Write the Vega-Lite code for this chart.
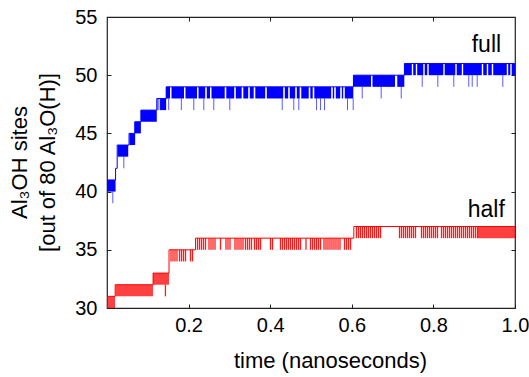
{
  "$schema": "https://vega.github.io/schema/vega-lite/v6.json",
  "autosize": {"type": "none"},
  "width": 408,
  "height": 291,
  "padding": {"left": 107, "top": 17, "right": 14, "bottom": 69},
  "background": "white",
  "config": {
    "view": {"stroke": "#222222", "strokeWidth": 1.2},
    "font": "Liberation Sans, Arial, DejaVu Sans, sans-serif",
    "axis": {
      "labelFont": "Liberation Sans, Arial, DejaVu Sans, sans-serif",
      "titleFont": "Liberation Sans, Arial, DejaVu Sans, sans-serif",
      "labelColor": "#000000",
      "titleColor": "#000000",
      "tickColor": "#222222",
      "grid": false,
      "domain": false,
      "titleFontWeight": "normal"
    }
  },
  "datasets": {
    "bands": [
      {"series": "full", "lo": 40, "hi": 41, "t0": 0, "t1": 0.021},
      {"series": "full", "lo": 43, "hi": 44, "t0": 0.026, "t1": 0.052},
      {"series": "full", "lo": 44, "hi": 45, "t0": 0.055, "t1": 0.069},
      {"series": "full", "lo": 45, "hi": 46, "t0": 0.068, "t1": 0.083},
      {"series": "full", "lo": 46, "hi": 47, "t0": 0.083, "t1": 0.122},
      {"series": "full", "lo": 47, "hi": 48, "t0": 0.13, "t1": 0.145},
      {"series": "full", "lo": 48, "hi": 49, "t0": 0.1446, "t1": 0.1544},
      {"series": "full", "lo": 48, "hi": 49, "t0": 0.1581, "t1": 0.1887},
      {"series": "full", "lo": 48, "hi": 49, "t0": 0.1924, "t1": 0.2206},
      {"series": "full", "lo": 48, "hi": 49, "t0": 0.2243, "t1": 0.2407},
      {"series": "full", "lo": 48, "hi": 49, "t0": 0.2446, "t1": 0.2525},
      {"series": "full", "lo": 48, "hi": 49, "t0": 0.2561, "t1": 0.2885},
      {"series": "full", "lo": 48, "hi": 49, "t0": 0.2924, "t1": 0.3118},
      {"series": "full", "lo": 48, "hi": 49, "t0": 0.3157, "t1": 0.3301},
      {"series": "full", "lo": 48, "hi": 49, "t0": 0.3341, "t1": 0.3461},
      {"series": "full", "lo": 48, "hi": 49, "t0": 0.35, "t1": 0.3596},
      {"series": "full", "lo": 48, "hi": 49, "t0": 0.3635, "t1": 0.3877},
      {"series": "full", "lo": 48, "hi": 49, "t0": 0.3917, "t1": 0.4319},
      {"series": "full", "lo": 48, "hi": 49, "t0": 0.4358, "t1": 0.4441},
      {"series": "full", "lo": 48, "hi": 49, "t0": 0.448, "t1": 0.4613},
      {"series": "full", "lo": 48, "hi": 49, "t0": 0.4652, "t1": 0.4723},
      {"series": "full", "lo": 48, "hi": 49, "t0": 0.4762, "t1": 0.4944},
      {"series": "full", "lo": 48, "hi": 49, "t0": 0.4983, "t1": 0.5042},
      {"series": "full", "lo": 48, "hi": 49, "t0": 0.5081, "t1": 0.5495},
      {"series": "full", "lo": 48, "hi": 49, "t0": 0.5534, "t1": 0.5569},
      {"series": "full", "lo": 48, "hi": 49, "t0": 0.5608, "t1": 0.5716},
      {"series": "full", "lo": 48, "hi": 49, "t0": 0.5755, "t1": 0.5789},
      {"series": "full", "lo": 48, "hi": 49, "t0": 0.5828, "t1": 0.6037},
      {"series": "full", "lo": 49, "hi": 50, "t0": 0.6037, "t1": 0.6471},
      {"series": "full", "lo": 49, "hi": 50, "t0": 0.6507, "t1": 0.7059},
      {"series": "full", "lo": 49, "hi": 50, "t0": 0.7115, "t1": 0.7287},
      {"series": "full", "lo": 50, "hi": 51, "t0": 0.7287, "t1": 0.7471},
      {"series": "full", "lo": 50, "hi": 51, "t0": 0.7505, "t1": 0.7569},
      {"series": "full", "lo": 50, "hi": 51, "t0": 0.7603, "t1": 0.7752},
      {"series": "full", "lo": 50, "hi": 51, "t0": 0.7787, "t1": 0.785},
      {"series": "full", "lo": 50, "hi": 51, "t0": 0.7885, "t1": 0.8243},
      {"series": "full", "lo": 50, "hi": 51, "t0": 0.8277, "t1": 0.8537},
      {"series": "full", "lo": 50, "hi": 51, "t0": 0.8571, "t1": 0.8696},
      {"series": "full", "lo": 50, "hi": 51, "t0": 0.873, "t1": 0.9186},
      {"series": "full", "lo": 50, "hi": 51, "t0": 0.9221, "t1": 0.9309},
      {"series": "full", "lo": 50, "hi": 51, "t0": 0.9343, "t1": 0.9431},
      {"series": "full", "lo": 50, "hi": 51, "t0": 0.9466, "t1": 0.9799},
      {"series": "full", "lo": 50, "hi": 51, "t0": 0.9833, "t1": 0.9885},
      {"series": "full", "lo": 50, "hi": 51, "t0": 0.9919, "t1": 1.0},
      {"series": "half", "lo": 30, "hi": 31, "t0": 0, "t1": 0.0196},
      {"series": "half", "lo": 31, "hi": 32, "t0": 0.0208, "t1": 0.1127},
      {"series": "half", "lo": 32, "hi": 33, "t0": 0.1127, "t1": 0.152},
      {"series": "half", "lo": 36, "hi": 37, "t0": 0.9093, "t1": 1.0}
    ],
    "spikes": [
      {"series": "full", "t": 0.013, "lo": 39, "hi": 40},
      {"series": "full", "t": 0.04, "lo": 42, "hi": 43},
      {"series": "full", "t": 0.123, "lo": 47, "hi": 48},
      {"series": "full", "t": 0.126, "lo": 47, "hi": 48},
      {"series": "full", "t": 0.15, "lo": 47, "hi": 48},
      {"series": "full", "t": 0.181, "lo": 47, "hi": 48},
      {"series": "full", "t": 0.2115, "lo": 47, "hi": 48},
      {"series": "full", "t": 0.236, "lo": 47, "hi": 48},
      {"series": "full", "t": 0.2605, "lo": 47, "hi": 48},
      {"series": "full", "t": 0.2998, "lo": 47, "hi": 48},
      {"series": "full", "t": 0.4282, "lo": 47, "hi": 48},
      {"series": "full", "t": 0.4566, "lo": 47, "hi": 48},
      {"series": "full", "t": 0.4689, "lo": 47, "hi": 48},
      {"series": "full", "t": 0.5123, "lo": 47, "hi": 48},
      {"series": "full", "t": 0.522, "lo": 47, "hi": 48},
      {"series": "full", "t": 0.5319, "lo": 47, "hi": 48},
      {"series": "full", "t": 0.5882, "lo": 47, "hi": 48},
      {"series": "full", "t": 0.6022, "lo": 47, "hi": 48},
      {"series": "full", "t": 0.6243, "lo": 48, "hi": 49},
      {"series": "full", "t": 0.6708, "lo": 48, "hi": 49},
      {"series": "full", "t": 0.7199, "lo": 48, "hi": 49},
      {"series": "full", "t": 0.7713, "lo": 49, "hi": 50},
      {"series": "full", "t": 0.8096, "lo": 49, "hi": 50},
      {"series": "full", "t": 0.8488, "lo": 49, "hi": 50},
      {"series": "full", "t": 0.8855, "lo": 49, "hi": 50},
      {"series": "full", "t": 0.8939, "lo": 49, "hi": 50},
      {"series": "full", "t": 0.9061, "lo": 49, "hi": 50},
      {"series": "full", "t": 0.9689, "lo": 49, "hi": 50},
      {"series": "half", "t": 0.142, "lo": 31, "hi": 32},
      {"series": "half", "t": 0.1556, "lo": 34, "hi": 35},
      {"series": "half", "t": 0.1605, "lo": 34, "hi": 35},
      {"series": "half", "t": 0.1654, "lo": 34, "hi": 35},
      {"series": "half", "t": 0.1703, "lo": 34, "hi": 35},
      {"series": "half", "t": 0.1765, "lo": 34, "hi": 35},
      {"series": "half", "t": 0.1814, "lo": 34, "hi": 35},
      {"series": "half", "t": 0.1863, "lo": 34, "hi": 35},
      {"series": "half", "t": 0.1912, "lo": 34, "hi": 35},
      {"series": "half", "t": 0.2034, "lo": 34, "hi": 35},
      {"series": "half", "t": 0.2083, "lo": 34, "hi": 35},
      {"series": "half", "t": 0.2206, "lo": 35, "hi": 36},
      {"series": "half", "t": 0.2255, "lo": 35, "hi": 36},
      {"series": "half", "t": 0.2304, "lo": 35, "hi": 36},
      {"series": "half", "t": 0.2353, "lo": 35, "hi": 36},
      {"series": "half", "t": 0.2402, "lo": 35, "hi": 36},
      {"series": "half", "t": 0.2488, "lo": 35, "hi": 36},
      {"series": "half", "t": 0.2537, "lo": 35, "hi": 36},
      {"series": "half", "t": 0.2586, "lo": 35, "hi": 36},
      {"series": "half", "t": 0.2635, "lo": 35, "hi": 36},
      {"series": "half", "t": 0.277, "lo": 35, "hi": 36},
      {"series": "half", "t": 0.2904, "lo": 35, "hi": 36},
      {"series": "half", "t": 0.2953, "lo": 35, "hi": 36},
      {"series": "half", "t": 0.3002, "lo": 35, "hi": 36},
      {"series": "half", "t": 0.3125, "lo": 35, "hi": 36},
      {"series": "half", "t": 0.3174, "lo": 35, "hi": 36},
      {"series": "half", "t": 0.3223, "lo": 35, "hi": 36},
      {"series": "half", "t": 0.3272, "lo": 35, "hi": 36},
      {"series": "half", "t": 0.3321, "lo": 35, "hi": 36},
      {"series": "half", "t": 0.3382, "lo": 35, "hi": 36},
      {"series": "half", "t": 0.3431, "lo": 35, "hi": 36},
      {"series": "half", "t": 0.348, "lo": 35, "hi": 36},
      {"series": "half", "t": 0.3529, "lo": 35, "hi": 36},
      {"series": "half", "t": 0.3603, "lo": 35, "hi": 36},
      {"series": "half", "t": 0.3652, "lo": 35, "hi": 36},
      {"series": "half", "t": 0.3701, "lo": 35, "hi": 36},
      {"series": "half", "t": 0.375, "lo": 35, "hi": 36},
      {"series": "half", "t": 0.3995, "lo": 35, "hi": 36},
      {"series": "half", "t": 0.4044, "lo": 35, "hi": 36},
      {"series": "half", "t": 0.424, "lo": 35, "hi": 36},
      {"series": "half", "t": 0.4289, "lo": 35, "hi": 36},
      {"series": "half", "t": 0.4338, "lo": 35, "hi": 36},
      {"series": "half", "t": 0.4387, "lo": 35, "hi": 36},
      {"series": "half", "t": 0.4436, "lo": 35, "hi": 36},
      {"series": "half", "t": 0.4485, "lo": 35, "hi": 36},
      {"series": "half", "t": 0.4534, "lo": 35, "hi": 36},
      {"series": "half", "t": 0.4583, "lo": 35, "hi": 36},
      {"series": "half", "t": 0.4632, "lo": 35, "hi": 36},
      {"series": "half", "t": 0.4681, "lo": 35, "hi": 36},
      {"series": "half", "t": 0.473, "lo": 35, "hi": 36},
      {"series": "half", "t": 0.4865, "lo": 35, "hi": 36},
      {"series": "half", "t": 0.4975, "lo": 35, "hi": 36},
      {"series": "half", "t": 0.5025, "lo": 35, "hi": 36},
      {"series": "half", "t": 0.5074, "lo": 35, "hi": 36},
      {"series": "half", "t": 0.5123, "lo": 35, "hi": 36},
      {"series": "half", "t": 0.5172, "lo": 35, "hi": 36},
      {"series": "half", "t": 0.5221, "lo": 35, "hi": 36},
      {"series": "half", "t": 0.5306, "lo": 35, "hi": 36},
      {"series": "half", "t": 0.5355, "lo": 35, "hi": 36},
      {"series": "half", "t": 0.5404, "lo": 35, "hi": 36},
      {"series": "half", "t": 0.5453, "lo": 35, "hi": 36},
      {"series": "half", "t": 0.5502, "lo": 35, "hi": 36},
      {"series": "half", "t": 0.5551, "lo": 35, "hi": 36},
      {"series": "half", "t": 0.56, "lo": 35, "hi": 36},
      {"series": "half", "t": 0.565, "lo": 35, "hi": 36},
      {"series": "half", "t": 0.5699, "lo": 35, "hi": 36},
      {"series": "half", "t": 0.5809, "lo": 35, "hi": 36},
      {"series": "half", "t": 0.5858, "lo": 35, "hi": 36},
      {"series": "half", "t": 0.5907, "lo": 35, "hi": 36},
      {"series": "half", "t": 0.5956, "lo": 35, "hi": 36},
      {"series": "half", "t": 0.6103, "lo": 36, "hi": 37},
      {"series": "half", "t": 0.6152, "lo": 36, "hi": 37},
      {"series": "half", "t": 0.6201, "lo": 36, "hi": 37},
      {"series": "half", "t": 0.625, "lo": 36, "hi": 37},
      {"series": "half", "t": 0.6299, "lo": 36, "hi": 37},
      {"series": "half", "t": 0.6348, "lo": 36, "hi": 37},
      {"series": "half", "t": 0.6397, "lo": 36, "hi": 37},
      {"series": "half", "t": 0.6446, "lo": 36, "hi": 37},
      {"series": "half", "t": 0.6495, "lo": 36, "hi": 37},
      {"series": "half", "t": 0.6544, "lo": 36, "hi": 37},
      {"series": "half", "t": 0.6593, "lo": 36, "hi": 37},
      {"series": "half", "t": 0.6642, "lo": 36, "hi": 37},
      {"series": "half", "t": 0.6691, "lo": 36, "hi": 37},
      {"series": "half", "t": 0.7157, "lo": 36, "hi": 37},
      {"series": "half", "t": 0.7206, "lo": 36, "hi": 37},
      {"series": "half", "t": 0.7255, "lo": 36, "hi": 37},
      {"series": "half", "t": 0.7304, "lo": 36, "hi": 37},
      {"series": "half", "t": 0.7353, "lo": 36, "hi": 37},
      {"series": "half", "t": 0.7402, "lo": 36, "hi": 37},
      {"series": "half", "t": 0.7451, "lo": 36, "hi": 37},
      {"series": "half", "t": 0.75, "lo": 36, "hi": 37},
      {"series": "half", "t": 0.7549, "lo": 36, "hi": 37},
      {"series": "half", "t": 0.7696, "lo": 36, "hi": 37},
      {"series": "half", "t": 0.7745, "lo": 36, "hi": 37},
      {"series": "half", "t": 0.7794, "lo": 36, "hi": 37},
      {"series": "half", "t": 0.7843, "lo": 36, "hi": 37},
      {"series": "half", "t": 0.7892, "lo": 36, "hi": 37},
      {"series": "half", "t": 0.7941, "lo": 36, "hi": 37},
      {"series": "half", "t": 0.799, "lo": 36, "hi": 37},
      {"series": "half", "t": 0.8039, "lo": 36, "hi": 37},
      {"series": "half", "t": 0.8088, "lo": 36, "hi": 37},
      {"series": "half", "t": 0.8186, "lo": 36, "hi": 37},
      {"series": "half", "t": 0.8235, "lo": 36, "hi": 37},
      {"series": "half", "t": 0.8284, "lo": 36, "hi": 37},
      {"series": "half", "t": 0.8333, "lo": 36, "hi": 37},
      {"series": "half", "t": 0.8382, "lo": 36, "hi": 37},
      {"series": "half", "t": 0.8431, "lo": 36, "hi": 37},
      {"series": "half", "t": 0.848, "lo": 36, "hi": 37},
      {"series": "half", "t": 0.8529, "lo": 36, "hi": 37},
      {"series": "half", "t": 0.8578, "lo": 36, "hi": 37},
      {"series": "half", "t": 0.8627, "lo": 36, "hi": 37},
      {"series": "half", "t": 0.8676, "lo": 36, "hi": 37},
      {"series": "half", "t": 0.8725, "lo": 36, "hi": 37},
      {"series": "half", "t": 0.8775, "lo": 36, "hi": 37},
      {"series": "half", "t": 0.8824, "lo": 36, "hi": 37},
      {"series": "half", "t": 0.8873, "lo": 36, "hi": 37},
      {"series": "half", "t": 0.8922, "lo": 36, "hi": 37},
      {"series": "half", "t": 0.8971, "lo": 36, "hi": 37},
      {"series": "half", "t": 0.902, "lo": 36, "hi": 37},
      {"series": "half", "t": 0.9069, "lo": 36, "hi": 37}
    ],
    "steps": [
      {"series": "full", "t": 0, "v": 41},
      {"series": "full", "t": 0.021, "v": 42},
      {"series": "full", "t": 0.025, "v": 44},
      {"series": "full", "t": 0.054, "v": 45},
      {"series": "full", "t": 0.068, "v": 46},
      {"series": "full", "t": 0.083, "v": 47},
      {"series": "full", "t": 0.122, "v": 48},
      {"series": "full", "t": 0.145, "v": 49},
      {"series": "full", "t": 0.604, "v": 50},
      {"series": "full", "t": 0.729, "v": 51},
      {"series": "full", "t": 1.0, "v": 51},
      {"series": "half", "t": 0, "v": 31},
      {"series": "half", "t": 0.02, "v": 32},
      {"series": "half", "t": 0.113, "v": 33},
      {"series": "half", "t": 0.152, "v": 35},
      {"series": "half", "t": 0.217, "v": 36},
      {"series": "half", "t": 0.605, "v": 37},
      {"series": "half", "t": 1.0, "v": 37}
    ],
    "labels": [
      {"series": "full", "label": "full", "t": 0.966, "v": 52.0},
      {"series": "half", "label": "half", "t": 0.975, "v": 37.8}
    ]
  },
  "resolve": {"axis": {"x": "independent", "y": "independent"}},
  "layer": [
    {
      "data": {"name": "bands"},
      "mark": {"type": "rect"},
      "encoding": {
        "x": {"field": "t0", "type": "quantitative", "scale": {"domain": [0, 1], "nice": false, "zero": false},
          "axis": {"orient": "bottom", "values": [0.2, 0.4, 0.6, 0.8, 1.0], "format": ".1f", "labelFontSize": 20, "tickSize": -4, "labelPadding": 11, "labelFlush": false, "labelOverlap": false,
            "title": "time (nanoseconds)", "titleFontSize": 22, "titleX": 223, "titleY": 59, "titleBaseline": "alphabetic", "titleAnchor": "middle", "titleAlign": "center"}},
        "x2": {"field": "t1"},
        "y": {"field": "lo", "type": "quantitative", "scale": {"domain": [30, 55], "nice": false, "zero": false},
          "axis": {"orient": "left", "values": [30, 35, 40, 45, 50, 55], "labelFontSize": 20, "tickSize": -4, "labelPadding": 14, "labelOverlap": false, "labelFlush": false,
            "title": ["Al₃OH sites", "[out of 80 Al₃O(H)]"], "titleFontSize": 22, "titleAngle": -90, "titleX": -81, "titleY": 145, "titleBaseline": "alphabetic", "titleAlign": "center", "titleLineHeight": 28}},
        "y2": {"field": "hi"},
        "color": {"field": "series", "type": "nominal", "scale": {"domain": ["full", "half"], "range": ["#0000ff", "#ff0000"]}, "legend": null},
        "opacity": {"condition": {"test": "datum.series === 'half'", "value": 0.75}, "value": 1}
      }
    },
    {
      "data": {"name": "spikes"},
      "mark": {"type": "rule", "xOffset": 0.5},
      "encoding": {
        "x": {"field": "t", "type": "quantitative", "axis": {"orient": "top", "values": [0.2, 0.4, 0.6, 0.8], "labels": false, "tickSize": -4, "title": null}},
        "y": {"field": "lo", "type": "quantitative", "axis": {"orient": "right", "values": [35, 40, 45, 50], "labels": false, "tickSize": -4, "title": null}},
        "y2": {"field": "hi"},
        "color": {"field": "series", "type": "nominal", "legend": null},
        "opacity": {"condition": {"test": "datum.series === 'half'", "value": 0.9}, "value": 0.65},
        "strokeWidth": {"condition": {"test": "datum.series === 'half'", "value": 1.3}, "value": 1}
      }
    },
    {
      "data": {"name": "steps"},
      "mark": {"type": "line", "interpolate": "step-after", "strokeWidth": 1},
      "encoding": {
        "x": {"field": "t", "type": "quantitative", "axis": null},
        "y": {"field": "v", "type": "quantitative", "axis": null},
        "color": {"field": "series", "type": "nominal", "legend": null}
      }
    },
    {
      "data": {"name": "labels"},
      "mark": {"type": "text", "align": "right", "baseline": "alphabetic", "fontSize": 23, "color": "#000000"},
      "encoding": {
        "x": {"field": "t", "type": "quantitative", "axis": null},
        "y": {"field": "v", "type": "quantitative", "axis": null},
        "text": {"field": "label"}
      }
    }
  ]
}
